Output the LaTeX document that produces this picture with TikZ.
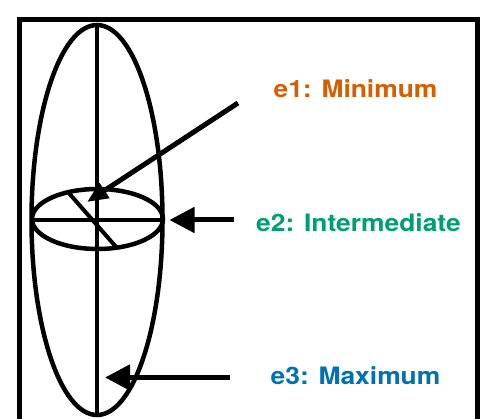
\documentclass[tikz,border=0pt]{standalone}
\usepackage{graphicx}
\usepackage{fontspec}
\setmainfont{TeX Gyre Heros}
\usetikzlibrary{arrows.meta}
\definecolor{eorange}{RGB}{213,94,0}
\definecolor{egreen}{RGB}{0,158,115}
\definecolor{eblue}{RGB}{0,114,178}
\tikzset{
  frameline/.style={line width=5pt},
  shapeline/.style={line width=4.5pt},
  axisline/.style={line width=4pt},
  pointer/.style={line width=5pt, -{Triangle[length=25pt,width=25pt]}},
  smallpointer/.style={line width=5pt, -{Triangle[length=21pt,width=17pt]}},
  eigtext/.style={font=\bfseries\fontsize{24}{28}\selectfont, anchor=base, inner sep=0pt}
}
\begin{document}
\begin{tikzpicture}[x=1pt,y=-1pt]
\useasboundingbox (0,0) rectangle (483,419);
\clip (0,0) rectangle (483,419);
% frame
\draw[frameline] (19.5,20) rectangle (477.5,445);
% ellipsoid
\draw[shapeline] (97,220) ellipse [x radius=65.5pt, y radius=195pt];
\draw[shapeline] (97.5,219) ellipse [x radius=65.5pt, y radius=30pt];
% axes
\coordinate (vtop) at (97,24.5);
\coordinate (vbot) at (97,415);
\coordinate (hleft) at (32,220);
\coordinate (hright) at (163,220);
\coordinate (dstart) at (67.5,191.5);
\coordinate (dend) at (117,248);
\draw[axisline] (vtop) -- (vbot);
\draw[axisline] (hleft) -- (hright);
\draw[axisline] (dstart) -- (dend);
% arrows
\coordinate (a1s) at (238,103);
\coordinate (a1t) at (87,202);
\coordinate (a2s) at (234,220);
\coordinate (a2t) at (169.5,220);
\coordinate (a3s) at (230,377.5);
\coordinate (a3t) at (105,377.5);
\draw[smallpointer] (a1s) -- (a1t);
\draw[pointer] (a2s) -- (a2t);
\draw[pointer] (a3s) -- (a3t);
% labels
\node[eigtext, text=eorange] (l1) at (355.5,98) {\scalebox{1.1}[1]{e1: Minimum}};
\node[eigtext, text=egreen] (l2) at (358.5,231.5) {\scalebox{1.1}[1]{e2: Intermediate}};
\node[eigtext, text=eblue] (l3) at (355.5,385) {\scalebox{1.1}[1]{e3: Maximum}};
\end{tikzpicture}
\end{document}
